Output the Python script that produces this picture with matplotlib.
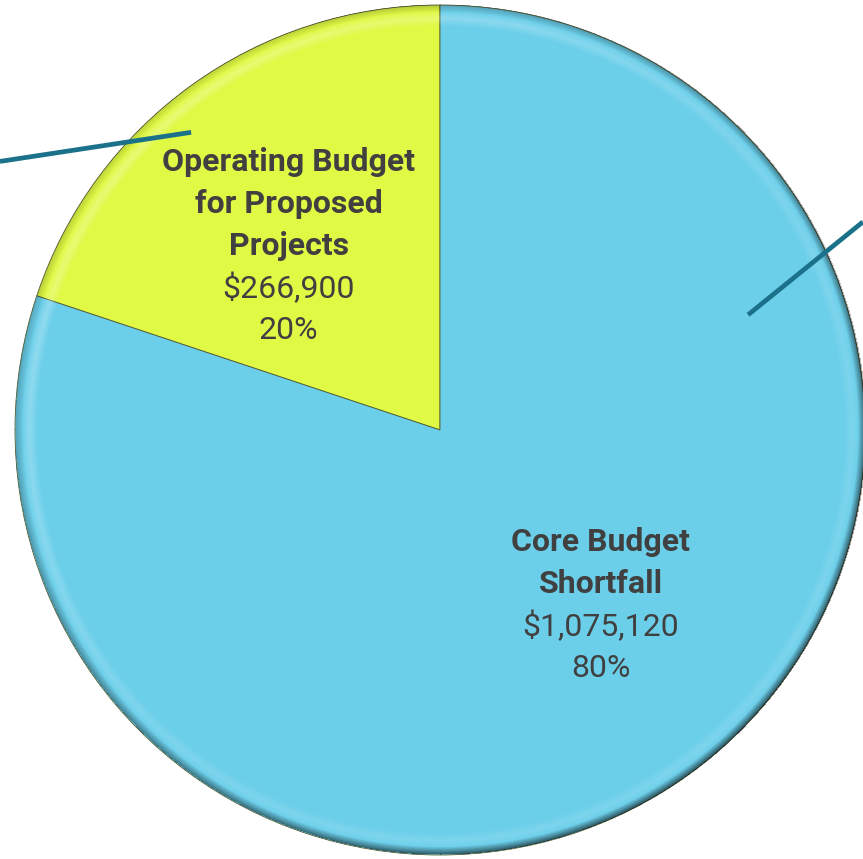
import numpy as np
import matplotlib.pyplot as plt

plt.rcParams['font.family'] = ['Roboto', 'DejaVu Sans']

# data
categories = ['Operating Budget\nfor Proposed\nProjects', 'Core Budget\nShortfall']
values = [266900, 1075120]
colors = ['#dff944', '#6ccfea']

W, H = 863, 859
cx, cy, R = 440, H - 430, 425

fig = plt.figure(figsize=(W / 100, H / 100), dpi=100)
ax = fig.add_axes([0, 0, 1, 1])

wedges, _ = ax.pie(values, colors=colors, startangle=90, counterclock=True,
                   center=(cx, cy), radius=R, frame=True,
                   wedgeprops=dict(edgecolor='#505a30', linewidth=0.6))
ax.set_xlim(0, W)
ax.set_ylim(0, H)
ax.set_aspect('equal')
ax.axis('off')

# bevel overlay: rim darker towards the bottom right, soft highlight inside
gx, gy = np.meshgrid(np.arange(cx - R, cx + R + 1, 1.0), np.arange(cy - R, cy + R + 1, 1.0))
rr = np.hypot(gx - cx, gy - cy)
th = np.arctan2(gy - cy, gx - cx)
light = np.cos(th - np.radians(135))
inside = rr <= R
dark_a = np.clip((rr - (R - 8)) / 8, 0, 1) * (0.4 - 0.25 * light)
dark_a[~inside] = 0
shade = np.zeros(rr.shape + (4,))
shade[..., 3] = dark_a
hl_a = np.clip(1 - np.abs(rr - (R - 14)) / 8, 0, 1) * (0.12 + 0.15 * np.clip(light, 0, 1))
hl_a[~inside] = 0
hl = np.ones(rr.shape + (4,))
hl[..., 3] = hl_a
ext = (cx - R - 0.5, cx + R + 0.5, cy - R - 0.5, cy + R + 0.5)
ax.imshow(hl, extent=ext, origin='lower', interpolation='bilinear', zorder=2)
ax.imshow(shade, extent=ext, origin='lower', interpolation='bilinear', zorder=2)
ax.set_xlim(0, W)
ax.set_ylim(0, H)

# labels
txt_color = '#404040'
label_pos = [(129.5, 0.56), (-47.5, 0.56)]  # angle (deg), fraction of radius
line_h = 42
for w, name, val, (ang, frac) in zip(wedges, categories, values, label_pos):
    pct = val / sum(values) * 100
    lines = [(s, 'bold') for s in name.split('\n')]
    lines += [('${:,.0f}'.format(val), 'normal'), ('{:.0f}%'.format(pct), 'normal')]
    x0 = cx + frac * R * np.cos(np.radians(ang))
    y0 = cy + frac * R * np.sin(np.radians(ang))
    n = len(lines)
    for k, (s, fw) in enumerate(lines):
        y = y0 + ((n - 1) / 2 - k) * line_h
        ax.text(x0, y, s, ha='center', va='center', fontsize=23,
                fontweight=fw, color=txt_color, zorder=4)

# leader lines (labels sit outside the visible area)
leaders = [((129.9, 0.913), (148.6, 1.213)), ((20.5, 0.774), (26.2, 1.109))]
for (a1, f1), (a2, f2) in leaders:
    xs = [cx + f1 * R * np.cos(np.radians(a1)), cx + f2 * R * np.cos(np.radians(a2))]
    ys = [cy + f1 * R * np.sin(np.radians(a1)), cy + f2 * R * np.sin(np.radians(a2))]
    ax.plot(xs, ys, color='#1b718a', lw=3.4, solid_capstyle='butt', clip_on=False, zorder=5)

plt.savefig('out.png', dpi=100)
